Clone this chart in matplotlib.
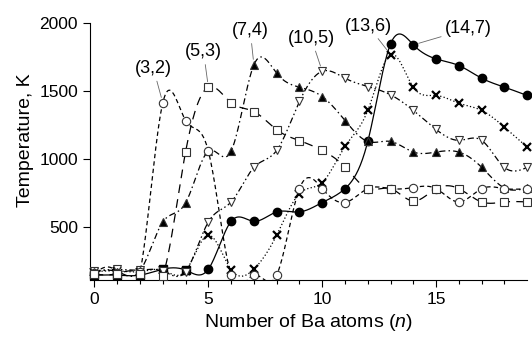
import numpy as np
import matplotlib
matplotlib.use("Agg")
from matplotlib import pyplot as plt

plt.rcParams['font.family'] = ['Liberation Sans', 'DejaVu Sans']
plt.rcParams['mathtext.fontset'] = 'custom'
plt.rcParams['mathtext.rm'] = 'Liberation Sans'
plt.rcParams['mathtext.it'] = 'Liberation Sans:italic'

# ---------------------------  Data  --------------------------- #

n_atoms = list(range(20))

# melting temperature (K) of each cluster family vs number of Ba atoms
temp_3_2 = [160, 160, 165, 1411, 1281, 1056, 145, 145, 145, 780,
            780, 678, 780, 780, 788, 780, 682, 780, 780, 780]
temp_5_3 = [150, 155, 150, 140, 1050, 1526, 1411, 1347, 1213, 1133,
            1061, 939, 780, 780, 689, 780, 780, 682, 682, 682]
temp_7_4 = [165, 170, 175, 535, 675, 1056, 1056, 1690, 1628, 1526,
            1457, 1281, 1127, 1127, 1049, 1049, 1049, 937, 785, 785]
temp_10_5 = [175, 186, 181, 175, 170, 535, 682, 936, 1061, 1421,
             1643, 1592, 1531, 1470, 1355, 1215, 1135, 1135, 936, 936]
temp_13_6 = [170, 175, 170, 180, 175, 438, 185, 188, 438, 744,
             825, 1091, 1355, 1766, 1526, 1465, 1408, 1355, 1232, 1085]
temp_14_7 = [144, 144, 144, 188, 181, 188, 540, 540, 609, 609,
             678, 780, 1127, 1844, 1837, 1734, 1685, 1592, 1526, 1465]

labels = ["(3,2)", "(5,3)", "(7,4)", "(10,5)", "(13,6)", "(14,7)"]
peak_n = [3, 5, 7, 10, 13, 14]
label_pos = [(2.59, 1663), (4.79, 1785), (6.84, 1940),
             (9.52, 1884), (12.03, 1974), (16.43, 1957)]


def smooth(x, y, num=600):
    """Natural cubic spline through the points, for drawing the curve."""
    x = np.asarray(x, float)
    y = np.asarray(y, float)
    n = len(x)
    h = np.diff(x)
    A = np.zeros((n, n))
    r = np.zeros(n)
    A[0, 0] = A[-1, -1] = 1
    for i in range(1, n - 1):
        A[i, i - 1] = h[i - 1]
        A[i, i] = 2 * (h[i - 1] + h[i])
        A[i, i + 1] = h[i]
        r[i] = 3 * ((y[i + 1] - y[i]) / h[i] - (y[i] - y[i - 1]) / h[i - 1])
    c = np.linalg.solve(A, r)
    b = (y[1:] - y[:-1]) / h - h * (2 * c[:-1] + c[1:]) / 3
    d = (c[1:] - c[:-1]) / (3 * h)
    xs = np.linspace(x[0], x[-1], num)
    i = np.clip(np.searchsorted(x, xs) - 1, 0, n - 2)
    dx = xs - x[i]
    return xs, y[i] + b[i] * dx + c[i] * dx ** 2 + d[i] * dx ** 3


# (values, line style, marker, face colour)
series = [
    (temp_14_7, '-', 'o', 'black'),
    (temp_13_6, (0, (1, 1.8)), 'x', 'black'),
    (temp_10_5, (0, (5, 2.2, 1.2, 2.2, 1.2, 2.2)), 'v', 'white'),
    (temp_7_4, (0, (5, 2.5, 1.2, 2.5)), '^', 'black'),
    (temp_3_2, (0, (3.5, 2.5)), 'o', 'white'),
    (temp_5_3, (0, (7, 5)), 's', 'white'),
]

fig, ax = plt.subplots(figsize=(5.32, 3.37), dpi=100)
fig.subplots_adjust(left=0.169, right=0.991, bottom=0.169, top=1.0)

for k, (vals, ls, mk, fc) in enumerate(series):
    xs, ys = smooth(n_atoms, vals)
    ax.plot(xs, ys, color='black', lw=0.9, linestyle=ls, zorder=2 + k)
for k, (vals, ls, mk, fc) in enumerate(series):
    if vals is temp_14_7:
        # low-n points of this family are drawn as filled squares
        ax.plot(n_atoms[:5], vals[:5], linestyle='none', marker='s', ms=5.5,
                mfc='black', mec='black', zorder=10 + k, clip_on=False)
        ax.plot(n_atoms[5:], vals[5:], linestyle='none', marker='o', ms=6,
                mfc='black', mec='black', zorder=10 + k, clip_on=False)
    elif mk == 'x':
        ax.plot(n_atoms, vals, linestyle='none', marker='x', ms=5.5, mew=1.6,
                color='black', zorder=10 + k, clip_on=False)
    else:
        ax.plot(n_atoms, vals, linestyle='none', marker=mk, ms=6, mew=0.8,
                mfc=fc, mec='#333333', zorder=10 + k, clip_on=False)

# cluster labels with leader lines
all_vals = {3: temp_3_2, 5: temp_5_3, 7: temp_7_4, 10: temp_10_5,
            13: temp_13_6, 14: temp_14_7}
for lab, n, pos in zip(labels, peak_n, label_pos):
    ax.annotate(lab, xy=(n, all_vals[n][n]), xytext=pos,
                ha='center', va='center', fontsize=13,
                arrowprops=dict(arrowstyle='-', lw=0.6, color='0.4',
                                shrinkA=1, shrinkB=4),
                zorder=20)

ax.set_xlim(-0.2, 19.0)
ax.set_ylim(108, 2167)
ax.set_xticks([0, 5, 10, 15])
ax.set_xticks([i for i in range(1, 19) if i % 5], minor=True)
ax.set_yticks([500, 1000, 1500, 2000])
ax.tick_params(axis='both', which='major', direction='out', length=5,
               width=0.8, labelsize=12.5)
ax.tick_params(axis='x', which='minor', direction='out', length=3, width=0.8)

for side in ('top', 'right'):
    ax.spines[side].set_visible(False)
ax.spines['left'].set_bounds(108, 2000)

ax.set_xlabel("Number of Ba atoms ($n$)", fontsize=14)
ax.set_ylabel("Temperature, K", fontsize=14)

fig.savefig("out.png", dpi=100)
